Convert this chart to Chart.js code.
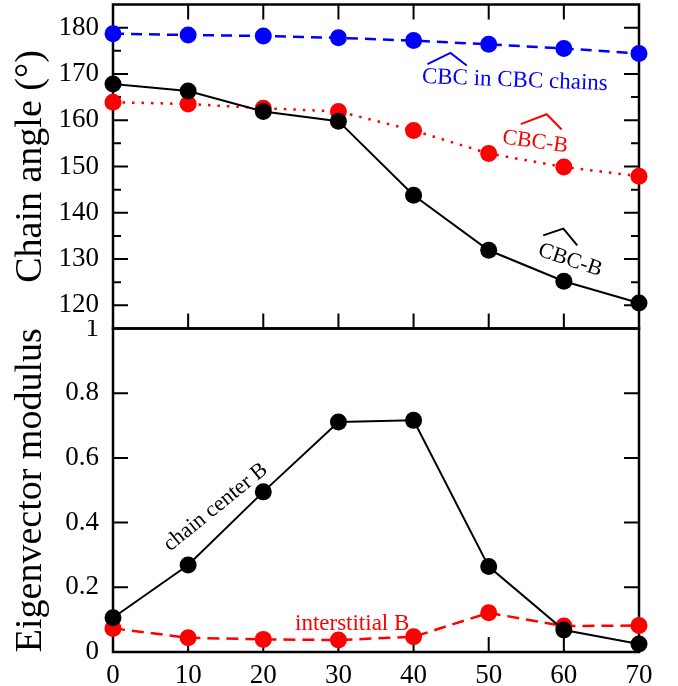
<!DOCTYPE html>
<html><head><meta charset="utf-8">
<script src="https://cdn.jsdelivr.net/npm/chart.js@4"></script>
<style>
html,body{margin:0;padding:0;background:#fff;}
#wrap{position:relative;width:678px;height:686px;overflow:hidden;background:#fff;}
#c1{position:absolute;left:0;top:-4px;}
#c2{position:absolute;left:0;top:320px;}
</style></head><body>
<div id="wrap"><canvas id="c1" width="678" height="341"></canvas><canvas id="c2" width="678" height="366"></canvas></div>
<script>
// ---- data ----
const xValues = [0, 10, 20, 30, 40, 50, 60, 70];
const angleCBCinChains = [178.7, 178.4, 178.2, 177.8, 177.2, 176.4, 175.5, 174.4];
const angleCBCBred = [163.9, 163.5, 162.6, 161.9, 157.8, 152.8, 149.9, 147.9];
const angleCBCBblack = [167.8, 166.3, 161.9, 159.8, 143.8, 131.9, 125.2, 120.5];
const modChainCenter = [0.106, 0.269, 0.495, 0.711, 0.716, 0.264, 0.068, 0.025];
const modInterstitial = [0.073, 0.044, 0.039, 0.037, 0.047, 0.121, 0.080, 0.082];
const xTicks = [0, 10, 20, 30, 40, 50, 60, 70];
const yTicksTop = [120, 130, 140, 150, 160, 170, 180];
const yMinorTop = [125, 135, 145, 155, 165, 175];
const yTicksBottom = [0, 0.2, 0.4, 0.6, 0.8, 1];
const yTitleTop = 'Chain angle (°)';
const yTitleBottom = 'Eigenvector modulus';

const SERIF = 'Liberation Serif';
Chart.defaults.font.family = SERIF;
const TICKFONT = {family: SERIF, size: 27};
const TITLEFONT = {family: SERIF, size: 38, lineHeight: 1.2};

// annotation text specs (anchor = left end of baseline, in data units)
const topLabels = [
  {text: 'CBC in CBC chains', x: 41.08, y: 168.06, rot: 2.2, color: '#0000ff', size: 23,
   hat: [[0.22, -0.83], [1.2, -1.35], [1.93, -0.83]]},
  {text: 'CBC-B', x: 51.73, y: 155.03, rot: 8, color: '#ff0000', size: 22,
   hat: [[0.74, -0.98], [1.84, -1.59], [2.61, -1.0]]},
  {text: 'CBC-B', x: 56.43, y: 130.81, rot: 18.5, color: '#000000', size: 22,
   hat: [[-0.02, -0.95], [0.75, -1.53], [1.59, -1.01]]}
];
const bottomLabels = [
  {text: 'chain center B', x: 7.59, y: 0.31, rot: -39, color: '#000000', size: 22},
  {text: 'interstitial B', x: 24.22, y: 0.068, rot: 0, color: '#ff0000', size: 23}
];

function zeroPad(s) { s.paddingTop = 0; s.paddingBottom = 0; s.paddingLeft = 0; s.paddingRight = 0; }

function frameAndTicks(cfg) {
  return {
    id: 'frameTicks',
    beforeDatasetsDraw(chart) {
      const ctx = chart.ctx, a = chart.chartArea;
      const xs = chart.scales.x, ys = chart.scales.y;
      ctx.save();
      ctx.strokeStyle = '#000';
      ctx.lineWidth = 2;
      ctx.beginPath();
      const MAJ = 15, MIN = 8;
      cfg.yMajor.forEach(v => {
        const p = ys.getPixelForValue(v);
        if (p <= a.top + 1 || p >= a.bottom - 1) return;
        ctx.moveTo(a.left, p); ctx.lineTo(a.left + MAJ, p);
        ctx.moveTo(a.right, p); ctx.lineTo(a.right - MAJ, p);
      });
      cfg.yMinor.forEach(v => {
        const p = ys.getPixelForValue(v);
        ctx.moveTo(a.left, p); ctx.lineTo(a.left + MIN, p);
        ctx.moveTo(a.right, p); ctx.lineTo(a.right - MIN, p);
      });
      xTicks.forEach(v => {
        const p = xs.getPixelForValue(v);
        if (p <= a.left + 1 || p >= a.right - 1) return;
        if (cfg.topTicks) { ctx.moveTo(p, a.top); ctx.lineTo(p, a.top + MAJ); }
        ctx.moveTo(p, a.bottom); ctx.lineTo(p, a.bottom - MAJ);
      });
      ctx.stroke();
      ctx.lineWidth = 2.5;
      ctx.strokeRect(a.left, a.top, a.right - a.left, a.bottom - a.top);
      ctx.restore();
    },
    afterDatasetsDraw(chart) {
      const ctx = chart.ctx;
      const xs = chart.scales.x, ys = chart.scales.y;
      cfg.labels.forEach(l => {
        const px = xs.getPixelForValue(l.x), py = ys.getPixelForValue(l.y);
        ctx.save();
        ctx.translate(px, py);
        ctx.rotate(l.rot * Math.PI / 180);
        ctx.font = l.size + 'px "' + SERIF + '"';
        ctx.fillStyle = l.color;
        ctx.textAlign = 'left';
        ctx.textBaseline = 'alphabetic';
        ctx.fillText(l.text, 0, 0);
        if (l.hat) {
          ctx.strokeStyle = l.color;
          ctx.lineWidth = 2;
          ctx.beginPath();
          l.hat.forEach((h, i) => {
            const hx = h[0] * l.size, hy = h[1] * l.size;
            if (i === 0) ctx.moveTo(hx, hy); else ctx.lineTo(hx, hy);
          });
          ctx.stroke();
        }
        ctx.restore();
      });
    }
  };
}

function ds(data, color, dash, width) {
  return {
    data: xValues.map((x, i) => ({x, y: data[i]})),
    borderColor: color, backgroundColor: color,
    pointBackgroundColor: color, pointBorderColor: color,
    pointRadius: 8.5, pointBorderWidth: 0, pointHoverRadius: 8.5,
    borderWidth: width, borderDash: dash, clip: false, tension: 0
  };
}

const topChart = new Chart(document.getElementById('c1'), {
  type: 'line',
  data: {datasets: [
    ds(angleCBCBblack, '#000000', [], 2),
    ds(angleCBCBred, '#ff0000', [2.5, 7], 2.5),
    ds(angleCBCinChains, '#0000ff', [11, 7], 2.5)
  ]},
  options: {
    responsive: false, animation: false, devicePixelRatio: 1,
    layout: {padding: {top: 0, right: 39, bottom: 0, left: 0}},
    plugins: {legend: {display: false}, tooltip: {enabled: false}},
    scales: {
      x: {type: 'linear', min: 0, max: 70, display: false, afterFit: zeroPad},
      y: {
        type: 'linear', min: 115, max: 185,
        afterBuildTicks: s => { s.ticks = yTicksTop.map(v => ({value: v})); },
        afterFit: s => { s.width = 113; zeroPad(s); },
        grid: {display: false}, border: {display: false},
        ticks: {font: TICKFONT, color: '#000', padding: 6, callback: v => String(v)},
        title: {display: true, text: yTitleTop, font: TITLEFONT, color: '#000', padding: {top: 8, bottom: 0}}
      }
    }
  },
  plugins: [frameAndTicks({yMajor: yTicksTop, yMinor: yMinorTop, topTicks: true, labels: topLabels})]
});

const bottomChart = new Chart(document.getElementById('c2'), {
  type: 'line',
  data: {datasets: [
    ds(modChainCenter, '#000000', [], 2),
    ds(modInterstitial, '#ff0000', [12, 7], 2.5)
  ]},
  options: {
    responsive: false, animation: false, devicePixelRatio: 1,
    layout: {padding: {top: 0, right: 39, bottom: 0, left: 0}},
    plugins: {legend: {display: false}, tooltip: {enabled: false}},
    scales: {
      x: {
        type: 'linear', min: 0, max: 70,
        afterBuildTicks: s => { s.ticks = xTicks.map(v => ({value: v})); },
        afterFit: s => { s.height = 34; zeroPad(s); },
        grid: {display: false}, border: {display: false},
        ticks: {font: TICKFONT, color: '#000', padding: 0, maxRotation: 0, autoSkip: false, callback: v => String(v)}
      },
      y: {
        type: 'linear', min: 0, max: 1,
        afterBuildTicks: s => { s.ticks = yTicksBottom.map(v => ({value: v})); },
        afterFit: s => { s.width = 113; zeroPad(s); },
        grid: {display: false}, border: {display: false},
        ticks: {font: TICKFONT, color: '#000', padding: 6, callback: v => String(v)},
        title: {display: true, text: yTitleBottom, font: TITLEFONT, color: '#000', padding: {top: 8, bottom: 0}}
      }
    }
  },
  plugins: [frameAndTicks({yMajor: yTicksBottom, yMinor: [], topTicks: false, labels: bottomLabels})]
});
</script>
</body></html>
